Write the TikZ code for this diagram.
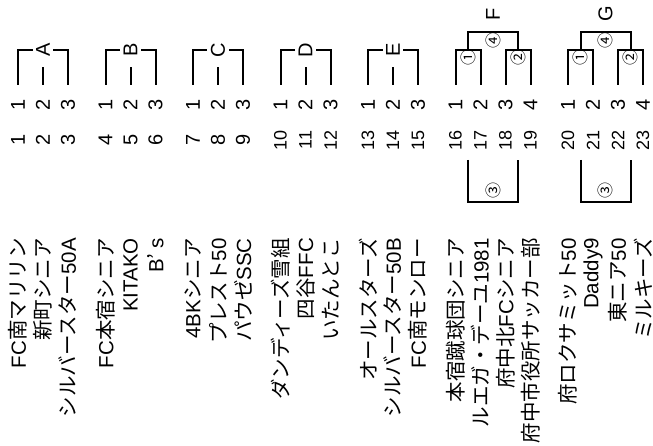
\documentclass[tikz,border=0pt]{standalone}
\usepackage{fontspec}
\setmainfont{Liberation Sans}
\newfontfamily\cjk{Noto Sans CJK JP}
\begin{document}
\begin{tikzpicture}[x=1pt,y=-1pt,
  br/.style={line width=2pt,line join=miter},
  nm/.style={rotate=90,anchor=east,inner sep=0pt,font=\fontsize{20.5}{22}\selectfont},
  num/.style={rotate=90,inner sep=0pt,font=\fontsize{20}{22}\selectfont},
  numtwo/.style={rotate=90,inner sep=0pt,font=\fontsize{18}{20}\selectfont},
  grp/.style={rotate=90,fill=white,inner sep=3.5pt,font=\fontsize{20}{22}\selectfont},
  grpfour/.style={rotate=90,inner sep=0pt,font=\fontsize{20}{22}\selectfont},
  circ/.style={rotate=90,inner sep=0pt,font=\cjk\fontsize{16}{18}\selectfont}]
\useasboundingbox (0,0) rectangle (653,446);
% groups of three
\foreach \g/\x in {A/18,B/105.5,C/193,D/280.5,E/368}{
  \coordinate (\g l) at (\x,85);
  \coordinate (\g m) at (\x+25,85);
  \coordinate (\g r) at (\x+50,85);
  \draw[br] (\g l) -- (\x,50) -- (\x+50,50) -- (\g r);
  \draw[br] (\g m) -- (\x+25,67);
  \node[grp] (lab\g) at (\x+25,50) {\g};
  \node[num] (loc\g1) at (\x,105) {1};
  \node[num] (loc\g2) at (\x+25,105) {2};
  \node[num] (loc\g3) at (\x+50,105) {3};
}
% groups of four
\foreach \g/\x in {F/455.5,G/568}{
  \coordinate (\g a) at (\x,85);
  \coordinate (\g b) at (\x+25,85);
  \coordinate (\g c) at (\x+50,85);
  \coordinate (\g d) at (\x+75,85);
  \draw[br] (\g a) -- (\x,50) -- (\x+25,50) -- (\g b);
  \draw[br] (\g c) -- (\x+50,50) -- (\x+75,50) -- (\g d);
  \draw[br] (\x+12.5,50) -- (\x+12.5,32) -- (\x+62.5,32) -- (\x+62.5,50);
  \node[grpfour] (lab\g) at (\x+37.5,14) {\g};
  \node[circ] (c1\g) at (\x+12.5,58) {①};
  \node[circ] (c2\g) at (\x+62.5,58) {②};
  \node[circ] (c4\g) at (\x+37.5,40.5) {④};
  \coordinate (\g p) at (\x+12.5,160);
  \coordinate (\g q) at (\x+62.5,160);
  \draw[br] (\g p) -- (\x+12.5,202) -- (\x+62.5,202) -- (\g q);
  \node[circ] (c3\g) at (\x+37.5,191) {③};
  \node[num] (loc\g1) at (\x,105) {1};
  \node[num] (loc\g2) at (\x+25,105) {2};
  \node[num] (loc\g3) at (\x+50,105) {3};
  \node[num] (loc\g4) at (\x+75,105) {4};
}
% overall numbers
\foreach \n/\x in {1/18,2/43,3/68,4/105.5,5/130.5,6/155.5,7/193,8/218,9/243}{
  \node[num] (g\n) at (\x,140) {\n};
}
\foreach \n/\x in {10/280.5,11/305.5,12/330.5,13/368,14/393,15/418,16/455.5,17/480.5,18/505.5,19/530.5,20/568,21/593,22/618,23/643}{
  \node[numtwo] (g\n) at (\x,140) {\n};
}
% team names
\foreach \n/\x/\t in {1/18/FC{\cjk 南マリリン},2/43/{\cjk 新町シニア},3/68/{\cjk シルバースター}50A,
  4/105.5/FC{\cjk 本宿シニア},5/130.5/KITAKO,6/155.5/B{\cjk ’}\hspace{0.25em}s,
  7/193/4BK{\cjk シニア},8/218/{\cjk プレスト}50,9/243/{\cjk パウゼ}SSC,
  10/280.5/{\cjk ダンディーズ雪組},11/305.5/{\cjk 四谷}FFC,12/330.5/{\cjk いたんとこ},
  13/368/{\cjk オールスターズ},14/393/{\cjk シルバースター}50B,15/418/FC{\cjk 南モンロー},
  16/455.5/{\cjk 本宿蹴球団シニア},17/480.5/{\cjk ルエガ・デーユ}1981,18/505.5/{\cjk 府中北}FC{\cjk シニア},19/530.5/{\cjk 府中市役所サッカー部},
  20/568/{\cjk 府ロクサミット}50,21/593/Daddy9,22/618/{\cjk 東ニア}50,23/643/{\cjk ミルキーズ}}{
  \node[nm] (t\n) at (\x,238) {\t};
}
\end{tikzpicture}
\end{document}
